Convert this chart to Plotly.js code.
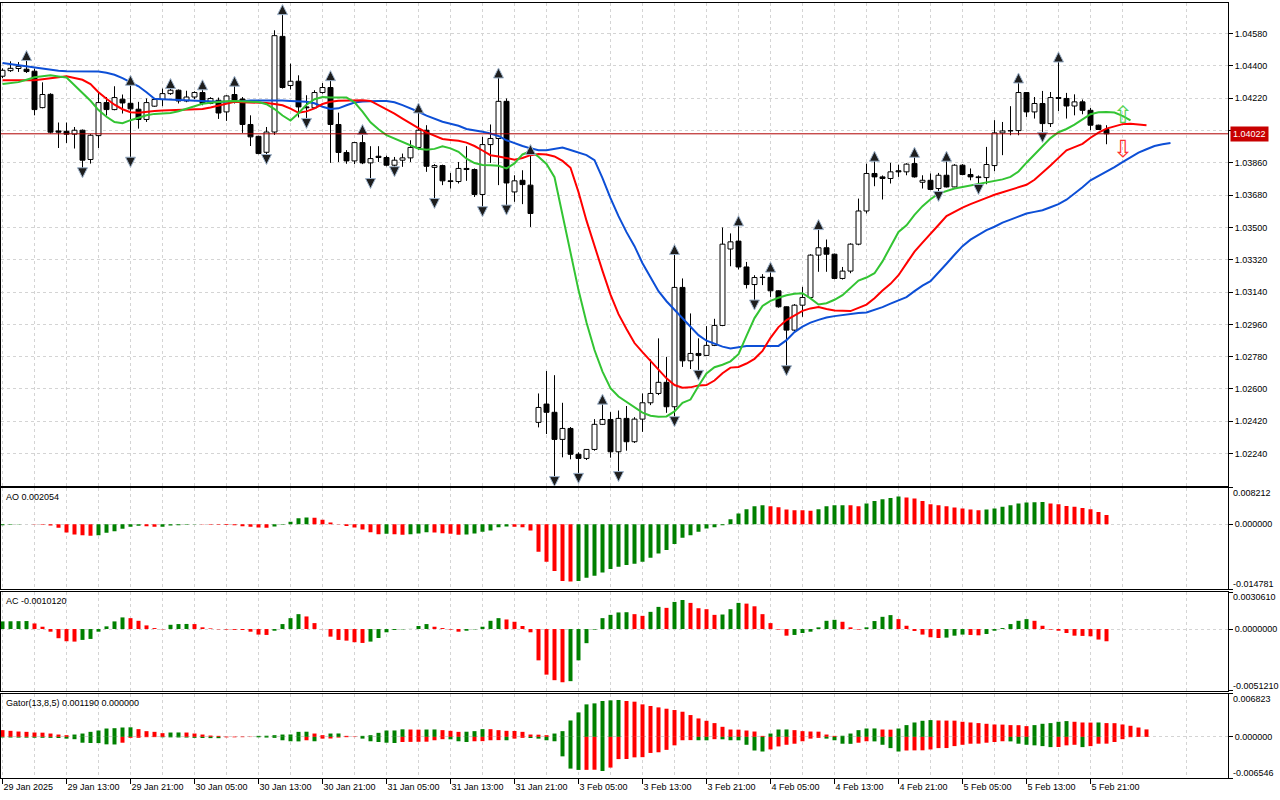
<!DOCTYPE html>
<html><head><meta charset="utf-8">
<script src="https://cdn.plot.ly/plotly-3.0.1.min.js"></script>
<style>html,body{margin:0;padding:0;background:#fff;overflow:hidden}#chart{width:1280px;height:800px}</style>
</head><body><div id="chart"></div>
<script>
// ---------- DATA ----------
const timeLabels = ["29 Jan 2025","29 Jan 13:00","29 Jan 21:00","30 Jan 05:00","30 Jan 13:00","30 Jan 21:00","31 Jan 05:00","31 Jan 13:00","31 Jan 21:00","3 Feb 05:00","3 Feb 13:00","3 Feb 21:00","4 Feb 05:00","4 Feb 13:00","4 Feb 21:00","5 Feb 05:00","5 Feb 13:00","5 Feb 21:00"];
const labelBars = [0,8,16,24,32,40,48,56,64,72,80,88,96,104,112,120,128,136];

const open = [1.04343,1.04374,1.04386,1.04382,1.04371,1.04168,1.04242,1.04038,1.04036,1.04020,
1.04042,1.03879,1.04012,1.04196,1.04157,1.04215,1.04192,1.04159,1.04102,1.04176,
1.04213,1.04246,1.04265,1.04205,1.04227,1.04252,1.04191,1.04209,1.04144,1.04241,
1.04216,1.04074,1.04008,1.03919,1.04032,1.04565,1.04291,1.04315,1.04172,1.04167,
1.04252,1.04280,1.04074,1.03918,1.03871,1.03973,1.03860,1.03897,1.03890,1.03847,
1.03875,1.03888,1.03946,1.04042,1.03835,1.03845,1.03760,1.03756,1.03829,1.03823,
1.03684,1.03962,1.03996,1.04203,1.03698,1.03763,1.03736,1.02414,1.02516,1.02470,
1.02319,1.02380,1.02236,1.02213,1.02263,1.02403,1.02430,1.02250,1.02436,1.02306,
1.02432,1.02523,1.02575,1.02637,1.02501,1.03166,1.02757,1.02798,1.02787,1.02843,
1.02954,1.03380,1.03424,1.03280,1.03182,1.03221,1.03222,1.03147,1.03058,1.02928,
1.03067,1.03110,1.03346,1.03387,1.03351,1.03216,1.03257,1.03407,1.03592,1.03801,
1.03782,1.03773,1.03816,1.03810,1.03856,1.03752,1.03763,1.03717,1.03791,1.03726,
1.03847,1.03795,1.03782,1.03778,1.03845,1.04027,1.04038,1.04040,1.04252,1.04144,
1.04191,1.04079,1.04224,1.04219,1.04177,1.04200,1.04153,1.04070,1.04046];
const high = [1.04387,1.04426,1.04422,1.04436,1.04386,1.04309,1.04248,1.04085,1.04085,1.04060,
1.04046,1.04020,1.04255,1.04227,1.04287,1.04241,1.04298,1.04200,1.04219,1.04220,
1.04274,1.04280,1.04269,1.04262,1.04259,1.04273,1.04226,1.04224,1.04237,1.04293,
1.04227,1.04125,1.04011,1.04060,1.04599,1.04692,1.04413,1.04348,1.04237,1.04265,
1.04305,1.04324,1.04140,1.03931,1.03977,1.04024,1.03953,1.03953,1.03900,1.03893,
1.03912,1.03986,1.04144,1.04070,1.03853,1.03850,1.03804,1.03865,1.03953,1.03829,
1.04005,1.04074,1.04339,1.04219,1.03791,1.03819,1.03912,1.02575,1.02700,1.02677,
1.02523,1.02388,1.02247,1.02265,1.02432,1.02521,1.02471,1.02480,1.02505,1.02443,
1.02575,1.02765,1.02882,1.02779,1.03355,1.03216,1.03021,1.02882,1.02950,1.02991,
1.03500,1.03467,1.03515,1.03308,1.03234,1.03240,1.03257,1.03150,1.03060,1.03073,
1.03169,1.03351,1.03494,1.03433,1.03355,1.03280,1.03412,1.03661,1.03856,1.03875,
1.03790,1.03860,1.03850,1.03858,1.03897,1.03791,1.03801,1.03804,1.03875,1.03853,
1.03853,1.03829,1.03790,1.03949,1.04098,1.04088,1.04176,1.04311,1.04255,1.04227,
1.04261,1.04255,1.04428,1.04250,1.04242,1.04213,1.04166,1.04073,1.04070];
const low = [1.04332,1.04367,1.04367,1.04361,1.04125,1.04164,1.04024,1.03943,1.03971,1.03940,
1.03823,1.03856,1.03943,1.04124,1.04153,1.04135,1.03882,1.04051,1.04088,1.04173,
1.04176,1.04239,1.04191,1.04198,1.04216,1.04181,1.04187,1.04105,1.04094,1.04191,
1.04027,1.03954,1.03908,1.03897,1.04016,1.04274,1.04269,1.04113,1.04098,1.04163,
1.04246,1.03860,1.03865,1.03855,1.03853,1.03853,1.03763,1.03865,1.03841,1.03829,
1.03838,1.03865,1.03931,1.03810,1.03652,1.03736,1.03717,1.03745,1.03760,1.03670,
1.03606,1.03860,1.03736,1.03615,1.03643,1.03630,1.03503,1.02386,1.02349,1.02102,
1.02219,1.02208,1.02120,1.02204,1.02256,1.02399,1.02217,1.02130,1.02256,1.02299,
1.02361,1.02510,1.02566,1.02467,1.02436,1.02723,1.02711,1.02694,1.02783,1.02839,
1.02950,1.03284,1.03266,1.03160,1.03086,1.03179,1.03113,1.03053,1.02720,1.02922,
1.03002,1.03106,1.03253,1.03253,1.03212,1.03210,1.03245,1.03401,1.03578,1.03730,
1.03656,1.03745,1.03782,1.03791,1.03778,1.03717,1.03708,1.03691,1.03723,1.03724,
1.03791,1.03763,1.03730,1.03741,1.03814,1.03903,1.04014,1.04014,1.04116,1.04107,
1.04020,1.04060,1.04149,1.04107,1.04125,1.04131,1.04042,1.04046,1.03964];
const close = [1.04376,1.04387,1.04398,1.04369,1.04157,1.04241,1.04031,1.04031,1.04020,1.04042,
1.03875,1.04014,1.04196,1.04157,1.04224,1.04194,1.04161,1.04102,1.04196,1.04213,
1.04246,1.04265,1.04205,1.04227,1.04252,1.04191,1.04219,1.04138,1.04233,1.04209,
1.04074,1.04005,1.03912,1.04032,1.04569,1.04280,1.04315,1.04172,1.04167,1.04252,
1.04280,1.04074,1.03918,1.03871,1.03973,1.03860,1.03884,1.03890,1.03847,1.03875,
1.03888,1.03946,1.04042,1.03841,1.03845,1.03760,1.03756,1.03829,1.03823,1.03684,
1.03962,1.03996,1.04203,1.03748,1.03760,1.03739,1.03578,1.02497,1.02470,1.02319,
1.02380,1.02236,1.02213,1.02263,1.02403,1.02430,1.02250,1.02436,1.02306,1.02432,
1.02523,1.02575,1.02637,1.02501,1.03166,1.02757,1.02798,1.02787,1.02843,1.02954,
1.03407,1.03420,1.03280,1.03182,1.03221,1.03222,1.03147,1.03058,1.02928,1.03067,
1.03110,1.03346,1.03387,1.03351,1.03216,1.03257,1.03407,1.03592,1.03801,1.03782,
1.03773,1.03810,1.03810,1.03853,1.03782,1.03763,1.03712,1.03791,1.03726,1.03847,
1.03795,1.03782,1.03778,1.03851,1.04027,1.04038,1.04040,1.04252,1.04144,1.04191,
1.04079,1.04224,1.04219,1.04177,1.04200,1.04153,1.04070,1.04046,1.04022];

// Alligator lines as displayed (already shifted forward: jaw 8, teeth 5, lips 3 bars)
const jaw = [1.04416,1.04410,1.04402,1.04395,1.04388,1.04382,1.04376,1.04373,1.04371,1.04371,
1.04372,1.04372,1.04369,1.04362,1.04351,1.04332,1.04309,1.04287,1.04254,1.04217,
1.04215,1.04213,1.04210,1.04206,1.04203,1.04202,1.04201,1.04200,1.04200,1.04200,
1.04203,1.04208,1.04209,1.04210,1.04210,1.04208,1.04205,1.04203,1.04201,1.04192,
1.04173,1.04160,1.04164,1.04181,1.04196,1.04202,1.04205,1.04205,1.04205,1.04198,
1.04182,1.04164,1.04145,1.04123,1.04104,1.04089,1.04078,1.04067,1.04049,1.04039,
1.04033,1.04024,1.04010,1.03986,1.03968,1.03954,1.03941,1.03931,1.03930,1.03936,
1.03945,1.03932,1.03917,1.03903,1.03875,1.03775,1.03663,1.03563,1.03474,1.03396,
1.03301,1.03223,1.03145,1.03089,1.03042,1.02995,1.02950,1.02900,1.02869,1.02852,
1.02836,1.02826,1.02833,1.02839,1.02839,1.02839,1.02839,1.02840,1.02872,1.02917,
1.02947,1.02970,1.02985,1.02998,1.03006,1.03013,1.03017,1.03023,1.03026,1.03039,
1.03056,1.03076,1.03092,1.03112,1.03145,1.03176,1.03201,1.03248,1.03298,1.03348,
1.03396,1.03432,1.03460,1.03485,1.03504,1.03527,1.03544,1.03561,1.03578,1.03587,
1.03596,1.03613,1.03630,1.03655,1.03688,1.03724,1.03763,1.03787,1.03809,1.03836,
1.03864,1.03891,1.03917,1.03936,1.03954,1.03964,1.03971];
const teeth = [1.04320,1.04320,1.04320,1.04320,1.04320,1.04326,1.04330,1.04337,1.04343,1.04335,
1.04323,1.04299,1.04254,1.04217,1.04184,1.04159,1.04142,1.04139,1.04145,1.04149,
1.04152,1.04153,1.04154,1.04156,1.04157,1.04160,1.04169,1.04178,1.04190,1.04200,
1.04198,1.04197,1.04196,1.04194,1.04188,1.04181,1.04162,1.04139,1.04147,1.04164,
1.04188,1.04201,1.04206,1.04208,1.04209,1.04209,1.04205,1.04182,1.04161,1.04134,
1.04107,1.04079,1.04054,1.04030,1.04010,1.03993,1.03988,1.03983,1.03973,1.03954,
1.03929,1.03903,1.03896,1.03889,1.03878,1.03887,1.03903,1.03909,1.03907,1.03896,
1.03871,1.03833,1.03697,1.03538,1.03391,1.03258,1.03126,1.03017,1.02934,1.02856,
1.02805,1.02755,1.02705,1.02659,1.02622,1.02607,1.02609,1.02620,1.02622,1.02647,
1.02688,1.02719,1.02723,1.02742,1.02768,1.02812,1.02885,1.02945,1.02984,1.03011,
1.03035,1.03049,1.03057,1.03046,1.03038,1.03036,1.03034,1.03052,1.03070,1.03106,
1.03149,1.03186,1.03234,1.03300,1.03365,1.03416,1.03463,1.03514,1.03564,1.03589,
1.03611,1.03630,1.03649,1.03665,1.03682,1.03697,1.03710,1.03723,1.03738,1.03766,
1.03804,1.03845,1.03888,1.03930,1.03948,1.03966,1.04000,1.04029,1.04051,1.04065,
1.04076,1.04078,1.04075,1.04070];
const lips = [1.04300,1.04305,1.04310,1.04323,1.04337,1.04343,1.04348,1.04342,1.04336,1.04293,
1.04251,1.04206,1.04154,1.04117,1.04088,1.04081,1.04098,1.04112,1.04125,1.04133,
1.04136,1.04138,1.04148,1.04162,1.04177,1.04189,1.04195,1.04200,1.04203,1.04205,
1.04204,1.04202,1.04199,1.04187,1.04160,1.04124,1.04096,1.04137,1.04184,1.04215,
1.04227,1.04225,1.04224,1.04224,1.04198,1.04146,1.04086,1.04047,1.04015,1.03996,
1.03976,1.03956,1.03939,1.03933,1.03938,1.03952,1.03941,1.03922,1.03883,1.03859,
1.03848,1.03847,1.03844,1.03829,1.03857,1.03907,1.03925,1.03894,1.03854,1.03780,
1.03571,1.03362,1.03151,1.02970,1.02817,1.02697,1.02605,1.02558,1.02529,1.02496,
1.02468,1.02451,1.02445,1.02447,1.02475,1.02523,1.02541,1.02617,1.02686,1.02721,
1.02735,1.02754,1.02794,1.02896,1.02995,1.03063,1.03091,1.03108,1.03122,1.03131,
1.03134,1.03105,1.03071,1.03078,1.03097,1.03123,1.03162,1.03204,1.03221,1.03245,
1.03311,1.03397,1.03475,1.03512,1.03570,1.03619,1.03657,1.03689,1.03705,1.03717,
1.03726,1.03734,1.03744,1.03754,1.03761,1.03768,1.03782,1.03812,1.03861,1.03909,
1.03953,1.03998,1.04031,1.04049,1.04073,1.04102,1.04131,1.04142,1.04144,1.04141,
1.04122,1.04097];

const fractalUpBars = [3,16,21,25,29,35,41,45,52,62,66,75,84,92,96,102,109,114,118,127,132];
const fractalDownBars = [10,16,33,38,46,49,54,60,63,69,72,77,84,87,94,98,117,122,130];

const signalUpBar = [140], signalUpPrice = [1.04126];
const signalDownBar = [140], signalDownPrice = [1.03940];

const aoValues = [-0.00023,-0.00015,-0.00008,-0.00004,-0.00006,-0.00012,-0.00030,-0.00083,-0.00189,-0.00234,
-0.00250,-0.00264,-0.00250,-0.00196,-0.00159,-0.00106,-0.00060,-0.00038,-0.00045,-0.00060,
-0.00057,-0.00030,-0.00023,-0.00015,-0.00008,-0.00010,-0.00012,-0.00015,-0.00018,-0.00023,
-0.00045,-0.00060,-0.00076,-0.00083,-0.00053,-0.00015,0.00053,0.00136,0.00151,0.00143,
0.00098,0.00038,-0.00008,-0.00040,-0.00076,-0.00121,-0.00181,-0.00227,-0.00219,-0.00227,
-0.00242,-0.00227,-0.00211,-0.00181,-0.00189,-0.00204,-0.00219,-0.00242,-0.00234,-0.00211,
-0.00174,-0.00143,-0.00068,-0.00053,-0.00060,-0.00068,-0.00143,-0.00627,-0.00853,-0.01065,
-0.01291,-0.01299,-0.01291,-0.01216,-0.01170,-0.01095,-0.01020,-0.00966,-0.00929,-0.00898,
-0.00853,-0.00763,-0.00665,-0.00589,-0.00453,-0.00310,-0.00249,-0.00174,-0.00098,-0.00068,
-0.00023,0.00113,0.00240,0.00340,0.00408,0.00430,0.00408,0.00385,0.00332,0.00317,
0.00315,0.00302,0.00340,0.00408,0.00430,0.00432,0.00428,0.00408,0.00468,0.00528,
0.00566,0.00596,0.00627,0.00604,0.00581,0.00528,0.00453,0.00430,0.00408,0.00378,
0.00355,0.00332,0.00317,0.00332,0.00355,0.00393,0.00430,0.00468,0.00493,0.00498,
0.00502,0.00468,0.00453,0.00415,0.00393,0.00370,0.00340,0.00279,0.002054];
const acValues = [0.00063,0.00064,0.00065,0.00066,0.00046,0.00019,-0.00022,-0.00076,-0.00101,-0.00104,
-0.00090,-0.00082,-0.00022,0.00022,0.00063,0.00096,0.00090,0.00068,0.00030,0.00008,
-0.00003,0.00035,0.00041,0.00042,0.00041,0.00014,0.00005,-0.00003,-0.00005,-0.00007,
-0.00008,-0.00022,-0.00046,-0.00049,-0.00014,0.00041,0.00090,0.00123,0.00104,0.00049,
-0.00001,-0.00063,-0.00090,-0.00096,-0.00109,-0.00115,-0.00104,-0.00074,-0.00027,-0.00008,
-0.00003,0.00001,0.00025,0.00041,0.00019,0.00008,-0.00005,-0.00022,-0.00014,-0.00003,
0.00019,0.00068,0.00090,0.00079,0.00060,0.00025,-0.00027,-0.00259,-0.00377,-0.00423,
-0.00440,-0.00431,-0.00259,-0.00117,-0.00005,0.00090,0.00117,0.00137,0.00139,0.00123,
0.00109,0.00142,0.00183,0.00175,0.00224,0.00240,0.00216,0.00172,0.00164,0.00117,
0.00120,0.00164,0.00216,0.00210,0.00188,0.00123,0.00049,-0.00005,-0.00055,-0.00049,
-0.00033,-0.00022,0.00014,0.00068,0.00076,0.00060,0.00014,-0.00005,0.00014,0.00066,
0.00101,0.00115,0.00082,0.00027,-0.00016,-0.00046,-0.00068,-0.00074,-0.00071,-0.00055,
-0.00046,-0.00049,-0.00052,-0.00041,-0.00014,0.00008,0.00041,0.00068,0.00082,0.00068,
0.00027,-0.00005,-0.00014,-0.00033,-0.00055,-0.00057,-0.00060,-0.00087,-0.001012];
const gatorUpper = [0.00107,0.00096,0.00085,0.00080,0.00069,0.00067,0.00053,0.00037,0.00027,0.00037,
0.00053,0.00080,0.00101,0.00133,0.00138,0.00149,0.00152,0.00123,0.00091,0.00080,
0.00059,0.00069,0.00070,0.00069,0.00053,0.00037,0.00021,0.00016,0.00005,0.00005,
0.00005,0.00003,0.00016,0.00018,0.00027,0.00037,0.00038,0.00080,0.00082,0.00053,
0.00027,0.00053,0.00054,0.00016,0.00005,0.00016,0.00027,0.00064,0.00101,0.00102,
0.00120,0.00117,0.00115,0.00117,0.00118,0.00107,0.00096,0.00080,0.00082,0.00091,
0.00123,0.00122,0.00107,0.00096,0.00094,0.00080,0.00037,0.00035,0.00027,0.00053,
0.00091,0.00261,0.00389,0.00517,0.00533,0.00571,0.00581,0.00587,0.00571,0.00560,
0.00517,0.00491,0.00469,0.00448,0.00427,0.00400,0.00347,0.00293,0.00256,0.00219,
0.00160,0.00117,0.00115,0.00101,0.00085,0.00016,0.00053,0.00117,0.00118,0.00107,
0.00091,0.00085,0.00083,0.00037,0.00016,0.00018,0.00053,0.00107,0.00133,0.00134,
0.00117,0.00115,0.00133,0.00187,0.00229,0.00256,0.00267,0.00261,0.00259,0.00258,
0.00240,0.00229,0.00219,0.00208,0.00197,0.00195,0.00187,0.00186,0.00171,0.00187,
0.00208,0.00219,0.00240,0.00251,0.00240,0.00229,0.00227,0.00229,0.00219,0.00218,
0.00197,0.00176,0.00149,0.00119];
const gatorLower = [-0.00010,-0.00011,-0.00012,-0.00013,-0.00014,-0.00015,-0.00016,-0.00018,-0.00028,-0.00037,
-0.00093,-0.00098,-0.00099,-0.00119,-0.00121,-0.00093,-0.00016,-0.00015,-0.00005,-0.00004,
-0.00007,-0.00008,-0.00010,-0.00011,-0.00016,-0.00018,-0.00020,-0.00021,-0.00008,-0.00007,
-0.00005,-0.00003,-0.00007,-0.00011,-0.00016,-0.00054,-0.00070,-0.00072,-0.00054,-0.00070,
-0.00028,-0.00026,-0.00011,-0.00005,-0.00003,-0.00028,-0.00070,-0.00082,-0.00093,-0.00098,
-0.00082,-0.00080,-0.00078,-0.00077,-0.00054,-0.00037,-0.00039,-0.00070,-0.00082,-0.00070,
-0.00068,-0.00054,-0.00052,-0.00054,-0.00028,-0.00016,-0.00018,-0.00028,-0.00054,-0.00070,
-0.00310,-0.00505,-0.00526,-0.00525,-0.00523,-0.00543,-0.00489,-0.00354,-0.00352,-0.00326,
-0.00323,-0.00256,-0.00245,-0.00207,-0.00135,-0.00054,-0.00052,-0.00054,-0.00055,-0.00037,
-0.00039,-0.00054,-0.00055,-0.00126,-0.00217,-0.00233,-0.00200,-0.00152,-0.00126,-0.00109,
-0.00070,-0.00028,-0.00016,-0.00028,-0.00054,-0.00109,-0.00111,-0.00093,-0.00070,-0.00072,
-0.00126,-0.00179,-0.00233,-0.00217,-0.00215,-0.00214,-0.00200,-0.00179,-0.00178,-0.00147,
-0.00126,-0.00109,-0.00108,-0.00093,-0.00082,-0.00070,-0.00072,-0.00109,-0.00126,-0.00135,
-0.00147,-0.00163,-0.00161,-0.00135,-0.00126,-0.00163,-0.00147,-0.00109,-0.00108,-0.00082,
-0.00037,-0.00005];

const priceTicks = [1.02240,1.02420,1.02600,1.02780,1.02960,1.03140,1.03320,1.03500,1.03680,1.03860,1.04040,1.04220,1.04400,1.04580];
const aoRange = [-0.014781, 0.008212], aoRangeText = ["-0.014781", "0.008212"], aoZeroText = "0.000000";
const acRange = [-0.0051210, 0.0030610], acRangeText = ["-0.0051210", "0.0030610"], acZeroText = "0.0000000";
const gatorRange = [-0.006546, 0.006823], gatorRangeText = ["-0.006546", "0.006823"], gatorZeroText = "0.000000";
const aoTitle = "AO 0.002054", acTitle = "AC -0.0010120", gatorTitle = "Gator(13,8,5) 0.001190 0.000000";

// ---------- STYLE ----------
const FONT = "Liberation Sans";
const FS = 9;
const GREEN = "#008000", RED = "#ff0000";
const GRID = "#d4d4d4", GDASH = "3px,3px";
const XR = [-0.1875, 153.1875];

const N = close.length;
const bars = close.map((_, i) => i);
const bodyBase = bars.map(i => Math.min(open[i], close[i]));
const bodyLen = bars.map(i => Math.max(Math.abs(close[i] - open[i]), 0.00002));
const bodyFill = bars.map(i => close[i] >= open[i] ? "#ffffff" : "#000000");
const wx = [], wy = [];
bars.forEach(i => {
  const top = Math.max(open[i], close[i]), bot = Math.min(open[i], close[i]);
  wx.push(i, i, null, i, i, null);
  wy.push(high[i], top, null, bot, low[i], null);
});
const upColor = (arr) => arr.map((v, i) => (i === 0 || v >= arr[i - 1]) ? GREEN : RED);
const absColor = (arr, first) => arr.map((v, i) => i === 0 ? first : (Math.abs(v) > Math.abs(arr[i - 1]) ? GREEN : RED));

const traces = [
  {type: "scatter", mode: "lines", x: wx, y: wy, xaxis: "x", yaxis: "y", line: {color: "#000", width: 1}, hoverinfo: "skip", showlegend: false},
  {type: "bar", x: bars, base: bodyBase, y: bodyLen, width: 0.62, xaxis: "x", yaxis: "y",
   marker: {color: bodyFill, line: {color: "#000", width: 1}}, showlegend: false, hoverinfo: "skip"},
  {type: "scatter", mode: "lines", x: jaw.map((_, j) => j), y: jaw, xaxis: "x", yaxis: "y", line: {color: "#0d4fd6", width: 2}, showlegend: false},
  {type: "scatter", mode: "lines", x: teeth.map((_, j) => j), y: teeth, xaxis: "x", yaxis: "y", line: {color: "#ff0000", width: 2}, showlegend: false},
  {type: "scatter", mode: "lines", x: lips.map((_, j) => j), y: lips, xaxis: "x", yaxis: "y", line: {color: "#33c433", width: 2}, showlegend: false},
  {type: "scatter", mode: "markers", x: fractalUpBars, y: fractalUpBars.map(i => high[i] + 0.00050), xaxis: "x", yaxis: "y",
   marker: {symbol: "arrow-up", size: 10, color: "#1e1e1e", line: {color: "#9fb4cc", width: 1}}, showlegend: false},
  {type: "scatter", mode: "markers", x: fractalDownBars, y: fractalDownBars.map(i => low[i] - 0.00046), xaxis: "x", yaxis: "y",
   marker: {symbol: "arrow-down", size: 10, color: "#1e1e1e", line: {color: "#9fb4cc", width: 1}}, showlegend: false},
  {type: "bar", x: bars, y: aoValues, width: 0.5, xaxis: "x2", yaxis: "y2", marker: {color: upColor(aoValues), line: {width: 0}}, showlegend: false},
  {type: "bar", x: bars, y: acValues, width: 0.5, xaxis: "x3", yaxis: "y3", marker: {color: upColor(acValues), line: {width: 0}}, showlegend: false},
  {type: "bar", x: gatorUpper.map((_, i) => i), y: gatorUpper, width: 0.5, xaxis: "x4", yaxis: "y4", marker: {color: absColor(gatorUpper, RED), line: {width: 0}}, showlegend: false},
  {type: "bar", x: gatorLower.map((_, i) => i), y: gatorLower, width: 0.5, xaxis: "x4", yaxis: "y4", marker: {color: absColor(gatorLower, GREEN), line: {width: 0}}, showlegend: false}
];

function xax(anchor, labels) {
  return {
    range: XR, anchor: anchor, domain: [0, 1], fixedrange: true,
    showline: true, mirror: true, linecolor: "#000", linewidth: 1, zeroline: false,
    showgrid: true, gridcolor: GRID, griddash: GDASH, gridwidth: 1,
    tickmode: "array", tickvals: labelBars, ticktext: timeLabels, tickangle: 0,
    showticklabels: labels, ticks: labels ? "outside" : "", ticklen: 5, tickcolor: "#000",
    ticklabelposition: "outside right",
    tickfont: {family: FONT, size: FS, color: "#000"},
    minor: {tickmode: "linear", tick0: 4, dtick: 8, showgrid: true, gridcolor: GRID, griddash: GDASH, gridwidth: 1, ticks: ""}
  };
}
function yax(anchor, domain, range, tv, tt) {
  return {
    anchor: anchor, domain: domain, range: range, side: "right", fixedrange: true,
    showline: true, mirror: true, linecolor: "#000", linewidth: 1, zeroline: false,
    showgrid: true, gridcolor: GRID, griddash: GDASH, gridwidth: 1,
    tickmode: "array", tickvals: tv, ticktext: tt, ticks: "outside", ticklen: 4, tickcolor: "#000",
    tickfont: {family: FONT, size: FS, color: "#000"}
  };
}

const D_MAIN = [0.3774, 1], D_AO = [0.2435, 0.3742], D_AC = [0.1123, 0.2400], D_GT = [0, 0.1084];
const lastClose = close[N - 1];

function edgeLabels(domain, rangeText) {
  return [
    {xref: "paper", x: 1, xanchor: "left", xshift: 4, yref: "paper", y: domain[1], yanchor: "middle", yshift: -5,
     text: rangeText[1], showarrow: false, borderpad: 0, font: {family: FONT, size: FS, color: "#000"}},
    {xref: "paper", x: 1, xanchor: "left", xshift: 4, yref: "paper", y: domain[0], yanchor: "middle", yshift: 5,
     text: rangeText[0], showarrow: false, borderpad: 0, font: {family: FONT, size: FS, color: "#000"}}
  ];
}
function title(domain, text) {
  return {xref: "paper", x: 0, xanchor: "left", xshift: 3, yref: "paper", y: domain[1], yanchor: "top", yshift: -2,
          text: text, showarrow: false, font: {family: FONT, size: FS, color: "#000"}};
}

const layout = {
  width: 1280, height: 800,
  margin: {l: 1, r: 52, t: 3, b: 22, pad: 0},
  paper_bgcolor: "#ffffff", plot_bgcolor: "#ffffff",
  barmode: "overlay", showlegend: false, hovermode: false,
  font: {family: FONT, size: FS, color: "#000"},
  xaxis: xax("y", false), xaxis2: xax("y2", false), xaxis3: xax("y3", false), xaxis4: xax("y4", true),
  yaxis: yax("x", D_MAIN, [1.02062, 1.04751], priceTicks, priceTicks.map(v => v.toFixed(5))),
  yaxis2: yax("x2", D_AO, aoRange, [aoRange[0], 0, aoRange[1]], ["", aoZeroText, ""]),
  yaxis3: yax("x3", D_AC, acRange, [acRange[0], 0, acRange[1]], ["", acZeroText, ""]),
  yaxis4: yax("x4", D_GT, gatorRange, [gatorRange[0], 0, gatorRange[1]], ["", gatorZeroText, ""]),
  shapes: [
    {type: "line", xref: "paper", x0: 0, x1: 1, yref: "y", y0: lastClose, y1: lastClose, line: {color: "#b00000", width: 1}}
  ],
  annotations: [
    {xref: "paper", x: 1, xanchor: "left", xshift: 2, yref: "y", y: lastClose, yanchor: "middle",
     text: lastClose.toFixed(5), showarrow: false, bgcolor: "#c80000", borderpad: 2,
     font: {family: FONT, size: FS, color: "#ffffff"}},
    title(D_AO, aoTitle), title(D_AC, acTitle), title(D_GT, gatorTitle),
    ...edgeLabels(D_AO, aoRangeText), ...edgeLabels(D_AC, acRangeText), ...edgeLabels(D_GT, gatorRangeText),
    {xref: "x", x: signalUpBar[0], yref: "y", y: signalUpPrice[0], text: "\u21E7", showarrow: false, borderpad: 0,
     font: {family: "DejaVu Sans", size: 24, color: "#55d455"}},
    {xref: "x", x: signalDownBar[0], yref: "y", y: signalDownPrice[0], text: "\u21E9", showarrow: false, borderpad: 0,
     font: {family: "DejaVu Sans", size: 24, color: "#ff3030"}}
  ]
};

Plotly.newPlot("chart", traces, layout, {staticPlot: true, displayModeBar: false});
</script>
</body></html>
